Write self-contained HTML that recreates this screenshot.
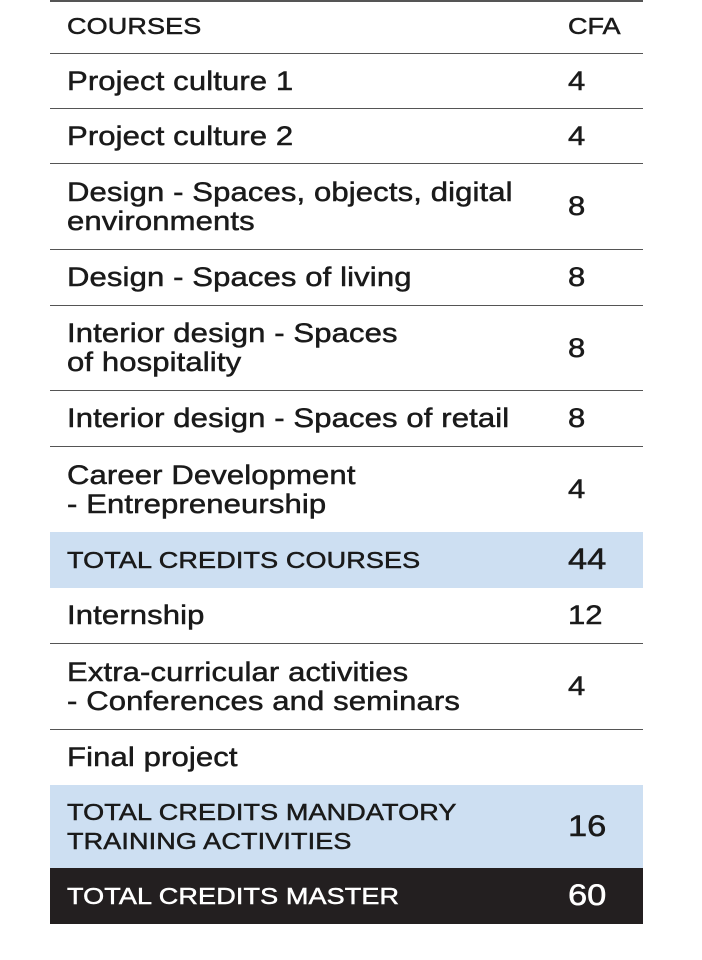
<!DOCTYPE html>
<html><head><meta charset="utf-8"><style>
body{margin:0;width:702px;height:960px;background:#fff;position:relative;font-family:"Liberation Sans",sans-serif;color:#1a1a1a;overflow:hidden}
.r{position:absolute;left:50px;width:593px;display:flex;align-items:center;border-bottom:1.5px solid #555;box-sizing:border-box}
.c1,.c2{-webkit-text-stroke:0.5px currentColor;transform-origin:left center;transform:scaleX(1.15);white-space:nowrap}
.c1{position:absolute;left:17px;font-size:27px;line-height:29px;letter-spacing:0.1px}
.c2{position:absolute;left:518px;font-size:27px}
.cap{font-size:23.5px;line-height:29px}
.blue{background:#cddff2}
.blk{background:#231f20;color:#fff;border-bottom:none}
</style></head><body>
<div style="position:absolute;left:50px;top:0;width:593px;height:1.5px;background:#555"></div>
<div class="r" style="top:0;height:54px"><span class="c1 cap">COURSES</span><span class="c2 cap">CFA</span></div>
<div class="r" style="top:54px;height:55px"><span class="c1">Project culture 1</span><span class="c2">4</span></div>
<div class="r" style="top:109px;height:55px"><span class="c1">Project culture 2</span><span class="c2">4</span></div>
<div class="r" style="top:164px;height:86px"><span class="c1">Design - Spaces, objects, digital<br>environments</span><span class="c2">8</span></div>
<div class="r" style="top:250px;height:56px"><span class="c1">Design - Spaces of living</span><span class="c2">8</span></div>
<div class="r" style="top:306px;height:85px"><span class="c1">Interior design - Spaces<br>of hospitality</span><span class="c2">8</span></div>
<div class="r" style="top:391px;height:56px"><span class="c1">Interior design - Spaces of retail</span><span class="c2">8</span></div>
<div class="r" style="top:447px;height:85px;border-bottom:none"><span class="c1">Career Development<br>- Entrepreneurship</span><span class="c2">4</span></div>
<div class="r blue" style="top:532px;height:56px;border-bottom:none"><span class="c1 cap">TOTAL CREDITS COURSES</span><span class="c2" style="font-size:30px">44</span></div>
<div class="r" style="top:588px;height:56px"><span class="c1">Internship</span><span class="c2">12</span></div>
<div class="r" style="top:644px;height:86px"><span class="c1">Extra-curricular activities<br>- Conferences and seminars</span><span class="c2">4</span></div>
<div class="r" style="top:730px;height:55px;border-bottom:none"><span class="c1">Final project</span></div>
<div class="r blue" style="top:785px;height:83px;border-bottom:none"><span class="c1 cap">TOTAL CREDITS MANDATORY<br>TRAINING ACTIVITIES</span><span class="c2" style="font-size:30px">16</span></div>
<div class="r blk" style="top:868px;height:56px"><span class="c1 cap">TOTAL CREDITS MASTER</span><span class="c2" style="font-size:30px">60</span></div>
</body></html>
